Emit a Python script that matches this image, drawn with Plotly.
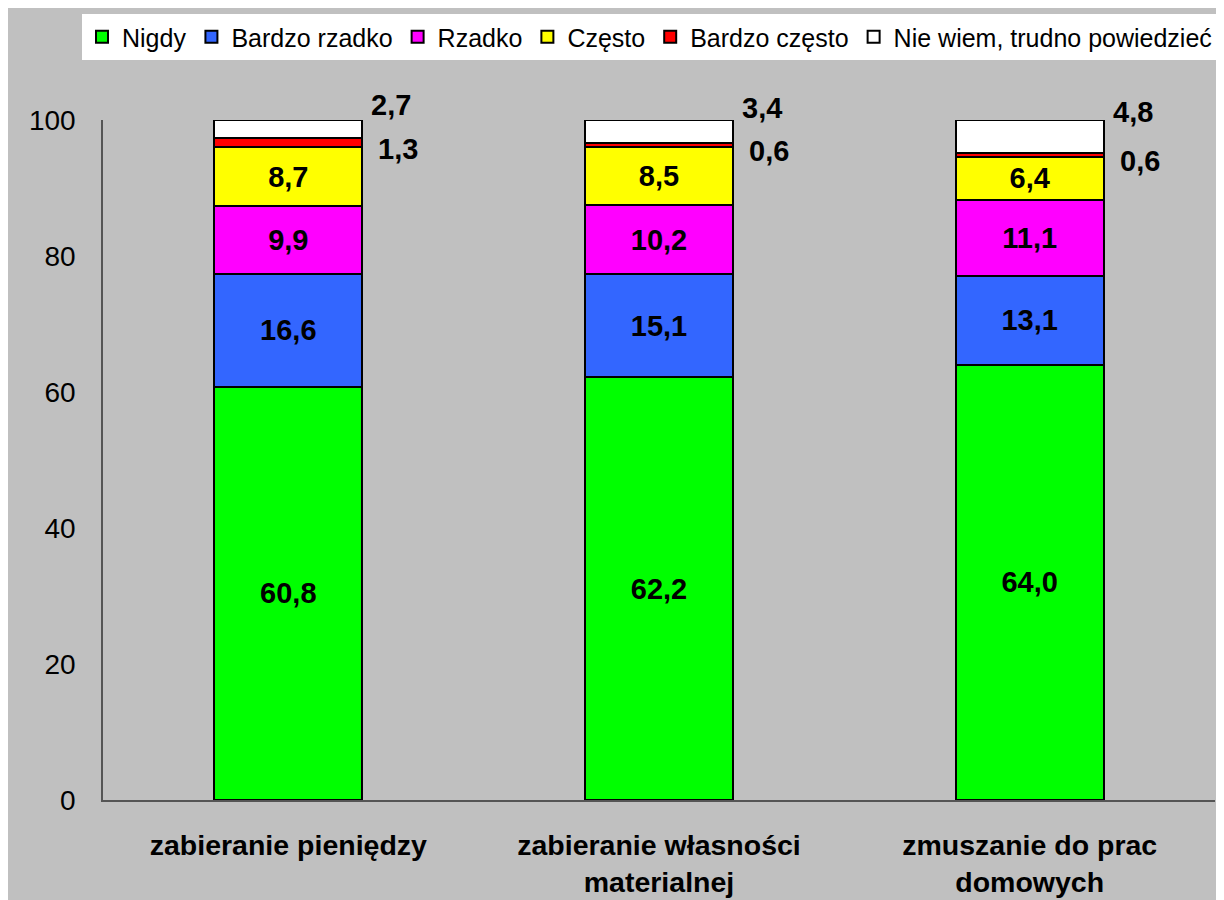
import plotly.graph_objects as go

categories = ["zabieranie pieniędzy", "zabieranie własności<br>materialnej", "zmuszanie do prac<br>domowych"]
series_names = ["Nigdy", "Bardzo rzadko", "Rzadko", "Często", "Bardzo często", "Nie wiem, trudno powiedzieć"]
nigdy = [60.8, 62.2, 64.0]
bardzo_rzadko = [16.6, 15.1, 13.1]
rzadko = [9.9, 10.2, 11.1]
czesto = [8.7, 8.5, 6.4]
bardzo_czesto = [1.3, 0.6, 0.6]
nie_wiem = [2.7, 3.4, 4.8]
y_ticks = [0, 20, 40, 60, 80, 100]

colors = ["#00FF00", "#3366FF", "#FF00FF", "#FFFF00", "#FF0000", "#FFFFFF"]
all_series = [nigdy, bardzo_rzadko, rzadko, czesto, bardzo_czesto, nie_wiem]
inside_text = [True, True, True, True, False, False]

FONT = "Liberation Sans, Arial, sans-serif"

fig = go.Figure()
for name, vals, col, show in zip(series_names, all_series, colors, inside_text):
    fig.add_trace(go.Bar(
        name=name, x=categories, y=vals,
        marker=dict(color=col, line=dict(color="#000000", width=2)),
        texttemplate="%{y:.1f}" if show else None,
        textposition="inside" if show else "none",
        insidetextanchor="middle",
        textangle=0,
        textfont=dict(family=FONT, size=29, color="#000000", weight="bold"),
        hoverinfo="skip",
    ))

# outside labels for the small top segments
annotations = []
for i, cat in enumerate(categories):
    base_red = nigdy[i] + bardzo_rzadko[i] + rzadko[i] + czesto[i]
    red_mid = base_red + bardzo_czesto[i] / 2
    white_mid = base_red + bardzo_czesto[i] + nie_wiem[i] / 2
    annotations.append(dict(x=cat, y=white_mid, xref="x", yref="y",
                            text=f"{nie_wiem[i]:.1f}".replace(".", ","),
                            showarrow=False, xshift=103, yshift=24,
                            font=dict(family=FONT, size=29, color="#000000", weight="bold")))
    annotations.append(dict(x=cat, y=red_mid, xref="x", yref="y",
                            text=f"{bardzo_czesto[i]:.1f}".replace(".", ","),
                            showarrow=False, xshift=110, yshift=-6,
                            font=dict(family=FONT, size=29, color="#000000", weight="bold")))

W, H = 1224, 900
ml, mr, mt, mb = 95, 17, 112, 108
pw = W - ml - mr
ph = H - mt - mb

fig.update_layout(
    width=W, height=H,
    margin=dict(l=ml, r=mr, t=mt, b=mb, pad=0, autoexpand=False),
    barmode="stack", bargap=0.6,
    separators=", ",
    paper_bgcolor="#C0C0C0", plot_bgcolor="#C0C0C0",
    font=dict(family=FONT, color="#000000"),
    annotations=annotations,
    legend=dict(orientation="h", x=(74 - ml) / pw, xanchor="left",
                y=(H - mb - 6) / ph, yanchor="top",
                bgcolor="#FFFFFF", borderwidth=0,
                font=dict(family=FONT, size=25, color="#000000"),
                traceorder="normal", itemwidth=30, tracegroupgap=0),
    xaxis=dict(showline=True, linecolor="#555555", linewidth=1.5,
               ticks="", showgrid=False,
               tickfont=dict(family=FONT, size=28.5, color="#000000", weight="bold"),
               ticklabelstandoff=19),
    yaxis=dict(range=[0, 100], tickvals=y_ticks, showline=True, linecolor="#555555",
               linewidth=1.5, ticks="", showgrid=False, zeroline=False,
               tickfont=dict(family=FONT, size=28, color="#000000"),
               ticklabelstandoff=20),
)

fig.write_html("out.html")
